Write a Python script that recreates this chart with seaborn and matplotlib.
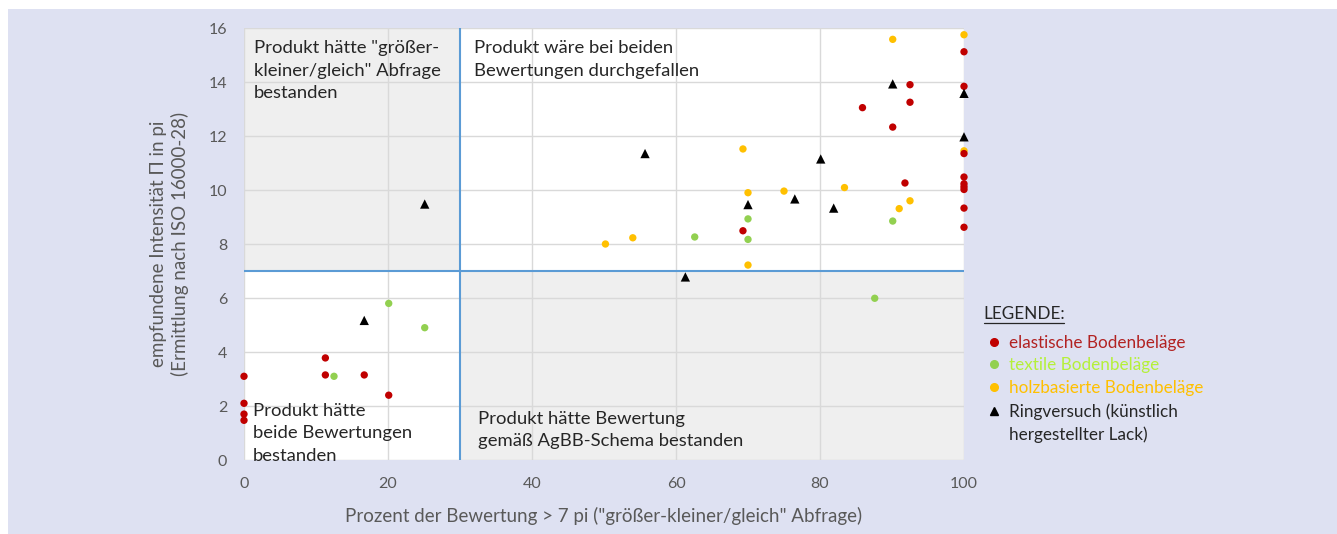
import numpy as np
import pandas as pd
import seaborn as sns
from matplotlib import pyplot as plt
from matplotlib.lines import Line2D
from matplotlib.patches import Rectangle

# Werte
elastic_x = [0, 0, 0, 0, 11.3, 11.3, 16.7, 20.1, 69.3, 85.9, 90.1, 91.8, 92.5, 92.5,
             100, 100, 100, 100, 100, 100, 100, 100, 100]
elastic_y = [3.1, 2.1, 1.7, 1.47, 3.78, 3.15, 3.15, 2.4, 8.49, 13.05, 12.33, 10.26, 13.9, 13.25,
             15.12, 13.84, 11.35, 10.48, 10.23, 10.12, 10.02, 9.33, 8.62]
textile_x = [12.5, 20.1, 25.1, 62.6, 70, 70, 87.6, 90.1]
textile_y = [3.1, 5.8, 4.9, 8.26, 8.93, 8.17, 5.99, 8.85]
wood_x = [50.2, 54, 69.3, 70, 70, 75, 83.4, 90.1, 91, 92.5, 100, 100]
wood_y = [8.0, 8.23, 11.52, 9.9, 7.22, 9.96, 10.09, 15.58, 9.31, 9.6, 15.75, 11.45]
ring_x = [16.7, 25.1, 55.7, 61.3, 70, 76.5, 80.1, 81.9, 90.1, 100, 100]
ring_y = [5.17, 9.48, 11.35, 6.78, 9.46, 9.67, 11.15, 9.33, 13.93, 13.58, 11.97]

categories = ["elastische Bodenbeläge", "textile Bodenbeläge",
              "holzbasierte Bodenbeläge", "Ringversuch (künstlich"]
colors = ["#c00000", "#92d050", "#ffc000", "#000000"]
text_colors = ["#b22222", "#b5f03a", "#ffc000", "#262626", "#262626"]

x_limit = 30   # Prozent
y_limit = 7    # pi

# Reihenfolge: holz zuerst, damit rote Punkte darüber liegen
df = pd.concat([
    pd.DataFrame({"x": wood_x, "y": wood_y, "kat": categories[2]}),
    pd.DataFrame({"x": textile_x, "y": textile_y, "kat": categories[1]}),
    pd.DataFrame({"x": elastic_x, "y": elastic_y, "kat": categories[0]}),
    pd.DataFrame({"x": ring_x, "y": ring_y, "kat": categories[3]}),
], ignore_index=True)

sns.set_style("white")
plt.rcParams['font.family'] = ['Lato', 'DejaVu Sans']

fig = plt.figure(figsize=(13.37, 5.34), dpi=100, facecolor="white")
fig.patches.append(Rectangle((8 / 1337, 0), 1, 1 - 9 / 534, transform=fig.transFigure,
                             facecolor="#dee1f2", edgecolor="none", zorder=-10))
ax = fig.add_axes([244 / 1337, 74 / 534, 720 / 1337, 432 / 534])
ax.set_facecolor("white")

# Quadranten schattieren
ax.fill_between([0, x_limit], y_limit, 16, color="#efefef", zorder=0, lw=0)
ax.fill_between([x_limit, 100], 0, y_limit, color="#efefef", zorder=0, lw=0)

ax.set_xlim(0, 100)
ax.set_ylim(0, 16)
ax.set_xticks([0, 20, 40, 60, 80, 100])
ax.set_yticks(np.arange(0, 17, 2))
ax.grid(True, color="#d9d9d9", lw=1, zorder=1)
ax.set_axisbelow(True)
for s in ax.spines.values():
    s.set_visible(False)

ax.axvline(x_limit, color="#5b9bd5", lw=1.5, zorder=2)
ax.axhline(y_limit, color="#5b9bd5", lw=1.5, zorder=2)

sns.scatterplot(data=df, x="x", y="y", hue="kat", style="kat", hue_order=categories,
                style_order=categories, palette=colors,
                markers={categories[0]: "o", categories[1]: "o", categories[2]: "o", categories[3]: "^"},
                size="kat", sizes={categories[0]: 28, categories[1]: 28, categories[2]: 28, categories[3]: 45},
                linewidth=0, ax=ax, legend=False, zorder=5, clip_on=False)

ax.tick_params(length=0, labelsize=11.5, labelcolor="#595959", pad=12)
ax.set_xlabel('Prozent der Bewertung > 7 pi ("größer-kleiner/gleich" Abfrage)',
              fontsize=13.5, color="#595959", labelpad=12)
ax.set_ylabel("empfundene Intensität Π in pi\n(Ermittlung nach ISO 16000-28)",
              fontsize=13.5, color="#595959", labelpad=14, linespacing=1.25)

qkw = dict(fontsize=13.3, color="#262626", va="top", ha="left", linespacing=1.5, zorder=6)
ax.text(1.4, 15.55, 'Produkt hätte "größer-\nkleiner/gleich" Abfrage\nbestanden', **qkw)
ax.text(32, 15.55, "Produkt wäre bei beiden\nBewertungen durchgefallen", **qkw)
ax.text(1.2, 2.12, "Produkt hätte\nbeide Bewertungen\nbestanden", **qkw)
ax.text(32.5, 1.82, "Produkt hätte Bewertung\ngemäß AgBB-Schema bestanden", **qkw)

# Legende
fig.text(983 / 1337, 1 - 314 / 534, "LEGENDE:", fontsize=12.3, color="#262626",
         ha="left", va="center")
fig.lines.append(Line2D([984 / 1337, 1064 / 1337], [1 - 323 / 534, 1 - 323 / 534],
                        transform=fig.transFigure, color="#262626", lw=0.9))
handles = [Line2D([], [], marker="o", ls="", color=colors[i], markersize=5.5) for i in range(3)]
handles.append(Line2D([], [], marker="^", ls="", color=colors[3], markersize=6))
handles.append(Line2D([], [], ls="", marker=None))
leg = fig.legend(handles, categories + ["hergestellter Lack)"], loc="upper left",
                 bbox_to_anchor=(979 / 1337, 1 - 326 / 534),
                 frameon=False, fontsize=12.3,
                 handlelength=0.8, handletextpad=0.45, labelspacing=0.4, borderpad=0)
for t, c in zip(leg.get_texts(), text_colors):
    t.set_color(c)

fig.savefig("out.png", dpi=100, facecolor=fig.get_facecolor())
